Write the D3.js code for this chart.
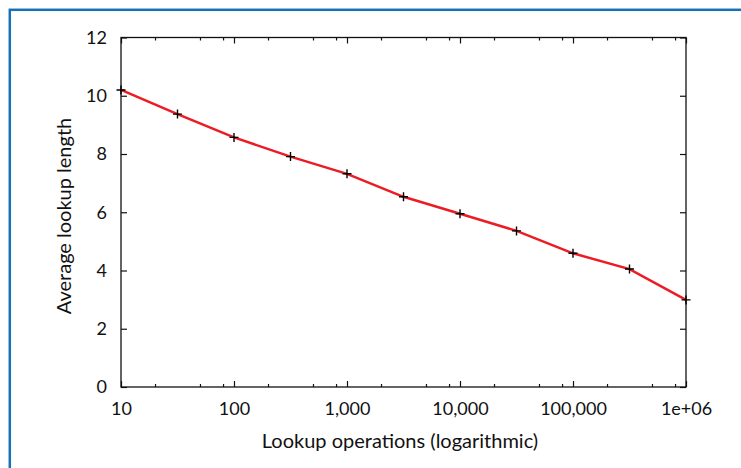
<!DOCTYPE html>
<html>
<head>
<meta charset="utf-8">
<script src="https://cdn.jsdelivr.net/npm/d3@7"></script>
<style>
body { margin: 0; background: #fff; }
svg text { font-family: Lato, "Open Sans", sans-serif; fill: #111; }
</style>
</head>
<body>
<script>
const WIDTH = 741;
const HEIGHT = 468;
const LEFT = 121, RIGHT = 686, TOP = 37.5, BOTTOM = 387;

// data
var lookupOps = [10, 31.62, 100, 316.2, 1000, 3162, 10000, 31623, 100000, 316228, 1000000];
var avgLength = [10.2, 9.37, 8.57, 7.91, 7.32, 6.53, 5.95, 5.36, 4.59, 4.05, 2.99];
var xTicks = [10, 100, 1000, 10000, 100000, 1000000];
var xTickLabels = ['10', '100', '1,000', '10,000', '100,000', '1e+06'];
var xMinorTicks = [20, 50, 80, 200, 500, 800, 2000, 5000, 8000, 20000, 50000, 80000, 200000, 500000, 800000];
var yTicks = [0, 2, 4, 6, 8, 10, 12];

var svg = d3.select('body').append('svg')
	.attr('width', WIDTH)
	.attr('height', HEIGHT);

// blue frame
svg.append('rect')
	.attr('x', 9.8).attr('y', 9.8)
	.attr('width', 900).attr('height', 700)
	.attr('fill', 'none')
	.attr('stroke', '#1672b8')
	.attr('stroke-width', 2.5);

var x = d3.scaleLog().domain([10, 1000000]).range([LEFT, RIGHT]);
var y = d3.scaleLinear().domain([0, 12]).range([BOTTOM, TOP]);

var styleAxis = function(g){
	g.select('.domain').remove();
	g.selectAll('line').attr('stroke', '#111').attr('stroke-width', 1.2);
	g.selectAll('text').style('font-size', '18px').attr('fill', '#111');
};

// bottom axis, inward ticks
svg.append('g')
	.attr('transform', 'translate(0,' + BOTTOM + ')')
	.call(d3.axisBottom(x).tickValues(xTicks).tickSize(-6).tickPadding(15)
		.tickFormat(function(d, i){ return xTickLabels[i]; }))
	.call(styleAxis);
svg.append('g')
	.attr('transform', 'translate(0,' + BOTTOM + ')')
	.call(d3.axisBottom(x).tickValues(xMinorTicks).tickSize(-3).tickFormat(''))
	.call(styleAxis);

// top mirror ticks
svg.append('g')
	.attr('transform', 'translate(0,' + TOP + ')')
	.call(d3.axisTop(x).tickValues(xTicks).tickSize(-6).tickFormat(''))
	.call(styleAxis);
svg.append('g')
	.attr('transform', 'translate(0,' + TOP + ')')
	.call(d3.axisTop(x).tickValues(xMinorTicks).tickSize(-3).tickFormat(''))
	.call(styleAxis);

// left axis
svg.append('g')
	.attr('transform', 'translate(' + LEFT + ',0)')
	.call(d3.axisLeft(y).tickValues(yTicks).tickSize(-6).tickPadding(14))
	.call(styleAxis);
// right mirror ticks
svg.append('g')
	.attr('transform', 'translate(' + RIGHT + ',0)')
	.call(d3.axisRight(y).tickValues(yTicks).tickSize(-6).tickFormat(''))
	.call(styleAxis);

// frame of the plot
svg.append('rect')
	.attr('x', LEFT).attr('y', TOP)
	.attr('width', RIGHT - LEFT).attr('height', BOTTOM - TOP)
	.attr('fill', 'none')
	.attr('stroke', '#111')
	.attr('stroke-width', 1.3);

// axis titles
svg.append('text')
	.attr('x', 400).attr('y', 448)
	.attr('text-anchor', 'middle')
	.style('font-size', '20px')
	.text('Lookup operations (logarithmic)');
svg.append('text')
	.attr('transform', 'translate(71,' + 216 + ') rotate(-90)')
	.attr('text-anchor', 'middle')
	.style('font-size', '20px')
	.text('Average lookup length');

var points = lookupOps.map(function(d, i){ return {x: d, y: avgLength[i]}; });

var line = d3.line()
	.x(function(d){ return x(d.x); })
	.y(function(d){ return y(d.y); });

svg.append('path')
	.attr('d', line(points))
	.attr('fill', 'none')
	.attr('stroke', '#ec1c24')
	.attr('stroke-width', 2.5);

// "+" markers
svg.append('g')
	.selectAll('path')
	.data(points)
	.enter()
	.append('path')
	.attr('transform', function(d){ return 'translate(' + x(d.x) + ',' + y(d.y) + ')'; })
	.attr('d', 'M-4.5,0H4.5M0,-4.5V4.5')
	.attr('stroke', '#000')
	.attr('stroke-width', 1.4);
</script>
</body>
</html>
